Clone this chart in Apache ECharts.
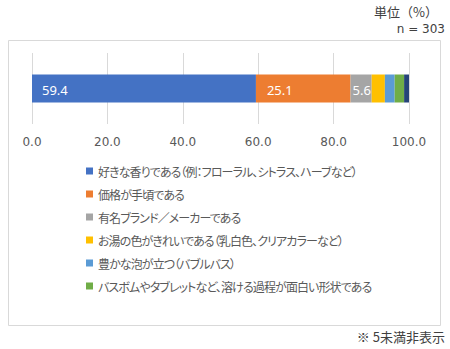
<!DOCTYPE html>
<html><head><meta charset="utf-8">
<script src="https://cdn.jsdelivr.net/npm/echarts@6/dist/echarts.min.js"></script>
<style>html,body{margin:0;padding:0;background:#fff}#c{width:450px;height:349px}
#c text{font-feature-settings:"palt" 1;}
#c text[style*="12.01px"]{letter-spacing:-0.9px;}</style>
</head><body><div id="c"></div>
<script>
const categories = ['全体'];
const seriesNames = [
  '好きな香りである（例：フローラル、シトラス、ハーブなど）',
  '価格が手頃である',
  '有名ブランド／メーカーである',
  'お湯の色がきれいである（乳白色、クリアカラーなど）',
  '豊かな泡が立つ（バブルバス）',
  'バスボムやタブレットなど、溶ける過程が面白い形状である',
  'その他'
];
const values = [59.4, 25.1, 5.6, 3.5, 2.6, 2.5, 1.3];
const colors = ['#4472c4', '#ed7d31', '#a5a5a5', '#ffc000', '#5b9bd5', '#70ad47', '#264478'];
const xTicks = [0, 20, 40, 60, 80, 100];
const labelOffsets = [5, 6, -3, 0, 0, 0, 0];

const font = '"Noto Sans CJK JP", "Noto Sans", sans-serif';
const latin = '"DejaVu Sans", sans-serif';
const chart = echarts.init(document.getElementById('c'), null, {renderer: 'svg'});
const series = seriesNames.map((n, i) => ({
  name: n,
  type: 'bar',
  stack: 'total',
  barWidth: 28,
  data: [values[i]],
  itemStyle: {color: colors[i]},
  label: {
    show: values[i] >= 5,
    position: 'insideLeft',
    color: '#fff',
    fontSize: 13,
    fontFamily: '"Noto Sans", sans-serif',
    formatter: p => p.value.toFixed(1),
    offset: [labelOffsets[i], 1]
  }
}));
chart.setOption({
  animation: false,
  textStyle: {fontFamily: font},
  graphic: [
    {type: 'rect', shape: {x: 8.5, y: 40.5, width: 432, height: 285}, style: {fill: 'none', stroke: '#d9d9d9', lineWidth: 1}, z: -1},
    {type: 'text', right: 12, top: 5, style: {text: '単位（%）', font: '13px ' + font, fill: '#404040'}},
    {type: 'text', right: 5, top: 23, style: {text: 'n = 303', font: '12px ' + latin, fill: '#404040'}},
    {type: 'text', right: 5, top: 330, style: {text: '※ 5未満非表示', font: '13px ' + font, fill: '#404040'}}
  ],
  grid: {left: 32, right: 41, top: 53, height: 71, containLabel: false},
  xAxis: {
    type: 'value', min: xTicks[0], max: xTicks[xTicks.length - 1], interval: 20,
    axisLine: {show: false}, axisTick: {show: false},
    axisLabel: {formatter: v => v.toFixed(1), color: '#595959', fontSize: 12, margin: 12, fontFamily: latin},
    splitLine: {lineStyle: {color: '#d9d9d9', width: 1}}
  },
  yAxis: {type: 'category', data: categories, show: false},
  legend: {
    orient: 'vertical', left: 81, top: 160,
    data: seriesNames.slice(0, 6),
    icon: 'rect', itemWidth: 7, itemHeight: 7, itemGap: 11,
    textStyle: {color: '#595959', fontSize: 12.01, fontFamily: font},
    selectedMode: false
  },
  series: series
});
</script></body></html>
